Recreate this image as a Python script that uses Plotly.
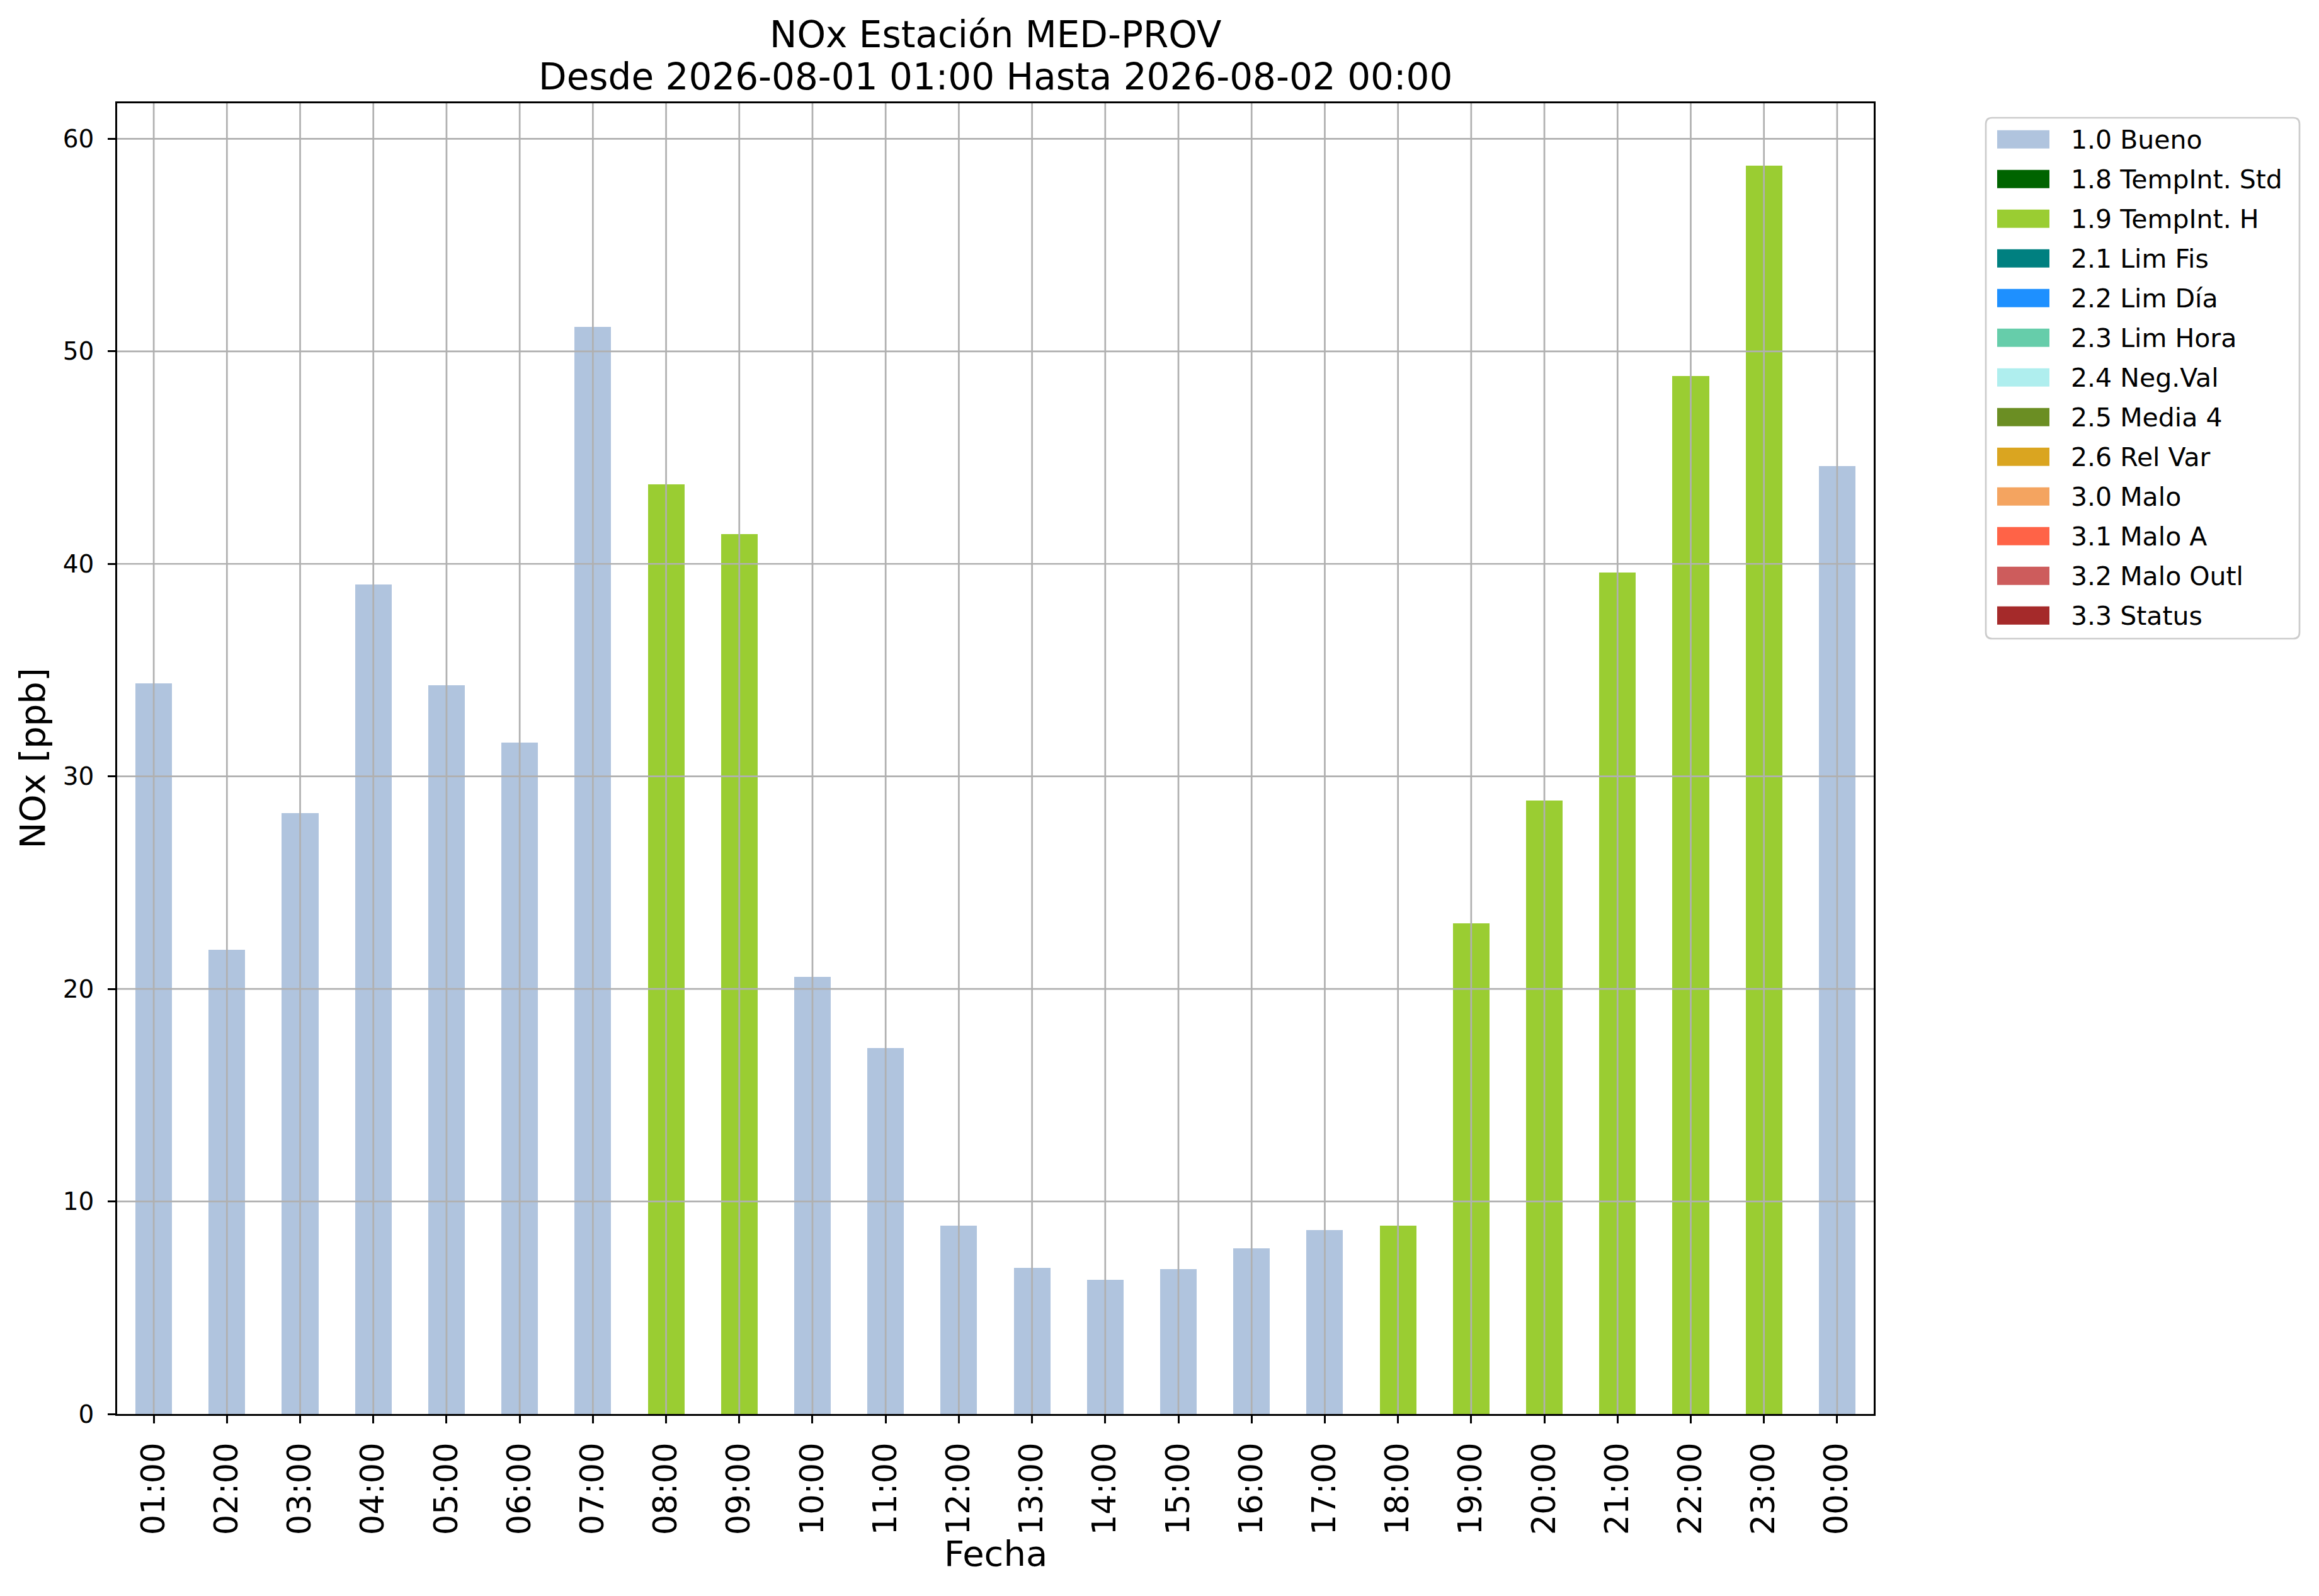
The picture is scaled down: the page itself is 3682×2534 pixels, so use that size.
import plotly.graph_objects as go

# ---------------- data ----------------
hours = ["01:00", "02:00", "03:00", "04:00", "05:00", "06:00", "07:00", "08:00",
         "09:00", "10:00", "11:00", "12:00", "13:00", "14:00", "15:00", "16:00",
         "17:00", "18:00", "19:00", "20:00", "21:00", "22:00", "23:00", "00:00"]
nox = [34.37, 21.84, 28.28, 39.02, 34.28, 31.6, 51.15, 43.73,
       41.4, 20.58, 17.21, 8.87, 6.89, 6.32, 6.82, 7.8,
       8.66, 8.87, 23.08, 28.86, 39.6, 48.83, 58.73, 44.59]
flags = ["1.0 Bueno"] * 7 + ["1.9 TempInt. H"] * 2 + ["1.0 Bueno"] * 8 + \
        ["1.9 TempInt. H"] * 6 + ["1.0 Bueno"]

flag_labels = ["1.0 Bueno", "1.8 TempInt. Std", "1.9 TempInt. H", "2.1 Lim Fis",
               "2.2 Lim Día", "2.3 Lim Hora", "2.4 Neg.Val", "2.5 Media 4",
               "2.6 Rel Var", "3.0 Malo", "3.1 Malo A", "3.2 Malo Outl", "3.3 Status"]
flag_colors = ["#B0C4DE", "#006400", "#9ACD32", "#008080", "#1E90FF", "#66CDAA",
               "#AFEEEE", "#6B8E23", "#DAA520", "#F4A460", "#FF6347", "#CD5C5C",
               "#A52A2A"]
y_ticks = [0, 10, 20, 30, 40, 50, 60]

title_line1 = "NOx Estación MED-PROV"
title_line2 = "Desde 2026-08-01 01:00 Hasta 2026-08-02 00:00"
x_title = "Fecha"
y_title = "NOx [ppb]"

# ---------------- layout constants (screen pixels) ----------------
BODY = 8                      # default page margin around the figure
L, R, T, B = 186, 2975, 164, 2245   # plot area on screen
PW, PH = R - L, B - T
FIG_W = 3682 - 2 * BODY
FIG_H = 2534 - 2 * BODY
FONT = "DejaVu Sans"
GRID = "#b0b0b0"


def px_x(px):
    return (px - L) / PW


def px_y(py):
    return (B - py) / PH


fig = go.Figure()
for lab, col in zip(flag_labels, flag_colors):
    vals = [v if f == lab else 0 for v, f in zip(nox, flags)]
    if not any(vals):
        continue
    fig.add_trace(go.Bar(x=hours, y=vals, name=lab, marker_color=col,
                         marker_line_width=0, width=0.5, showlegend=False))

fig.update_layout(
    width=FIG_W, height=FIG_H,
    margin=dict(l=L - BODY, r=FIG_W - (R - BODY), t=T - BODY,
                b=FIG_H - (B - BODY), pad=0),
    barmode="stack",
    plot_bgcolor="white", paper_bgcolor="white",
    font=dict(family=FONT, color="black"),
    showlegend=False,
)

fig.update_xaxes(
    type="category", range=[-0.5, len(hours) - 0.5],
    showgrid=False,
    showline=True, linecolor="black", linewidth=2.7, mirror=True,
    ticks="outside", ticklen=12, tickwidth=2.7, tickcolor="black",
    tickangle=-90, tickfont=dict(size=51, family=FONT, color="black"),
    ticklabelstandoff=10,
    layer="above traces", zeroline=False,
)
fig.update_yaxes(
    range=[0, 61.67], tickvals=y_ticks,
    showgrid=False,
    showline=True, linecolor="black", linewidth=2.7, mirror=True,
    ticks="outside", ticklen=12, tickwidth=2.7, tickcolor="black",
    tickfont=dict(size=39, family=FONT, color="black"),
    ticklabelstandoff=14,
    layer="above traces", zeroline=False,
)

shapes = []
# grid lines drawn over the bars, as in the reference
for h in hours:
    shapes.append(dict(type="line", xref="x", yref="paper", x0=h, x1=h,
                       y0=0, y1=1, line=dict(color=GRID, width=2.7),
                       layer="above"))
for v in y_ticks[1:]:
    shapes.append(dict(type="line", xref="paper", yref="y", x0=0, x1=1,
                       y0=v, y1=v, line=dict(color=GRID, width=2.7),
                       layer="above"))

annotations = [
    dict(text=title_line1, x=0.5, y=px_y(55), xref="paper", yref="paper",
         xanchor="center", yanchor="middle", showarrow=False,
         font=dict(size=58, family=FONT, color="black")),
    dict(text=title_line2, x=0.5, y=px_y(122), xref="paper", yref="paper",
         xanchor="center", yanchor="middle", showarrow=False,
         font=dict(size=58, family=FONT, color="black")),
    dict(text=x_title, x=0.5, y=px_y(2466), xref="paper", yref="paper",
         xanchor="center", yanchor="middle", showarrow=False,
         font=dict(size=56, family=FONT, color="black")),
    dict(text=y_title, x=px_x(51), y=0.5, xref="paper", yref="paper",
         xanchor="center", yanchor="middle", showarrow=False, textangle=-90,
         font=dict(size=56, family=FONT, color="black")),
]

# ---------------- legend (drawn as in the reference) ----------------
fx0, fx1, fy0, fy1, rr = 3153, 3651, 187, 1014, 10
rx, ry = rr / PW, rr / PH
X0, X1, Y0, Y1 = px_x(fx0), px_x(fx1), px_y(fy0), px_y(fy1)
path = (f"M {X0 + rx},{Y0} L {X1 - rx},{Y0} Q {X1},{Y0} {X1},{Y0 - ry} "
        f"L {X1},{Y1 + ry} Q {X1},{Y1} {X1 - rx},{Y1} L {X0 + rx},{Y1} "
        f"Q {X0},{Y1} {X0},{Y1 + ry} L {X0},{Y0 - ry} Q {X0},{Y0} {X0 + rx},{Y0} Z")
shapes.append(dict(type="path", path=path, xref="paper", yref="paper",
                   line=dict(color="#cccccc", width=2.7),
                   fillcolor="rgba(255,255,255,0.8)", layer="above"))
first_c, step = 221.3, 63.0
for i, (lab, col) in enumerate(zip(flag_labels, flag_colors)):
    cy = first_c + i * step
    shapes.append(dict(type="rect", xref="paper", yref="paper",
                       x0=px_x(3171), x1=px_x(3254),
                       y0=px_y(cy - 14.5), y1=px_y(cy + 14.5),
                       fillcolor=col, line=dict(width=0), layer="above"))
    annotations.append(dict(text=lab, x=px_x(3286), y=px_y(cy + 1),
                            xref="paper", yref="paper", xanchor="left",
                            yanchor="middle", showarrow=False,
                            font=dict(size=41, family=FONT, color="black")))

fig.update_layout(annotations=annotations, shapes=shapes)
fig.write_html("out.html")
